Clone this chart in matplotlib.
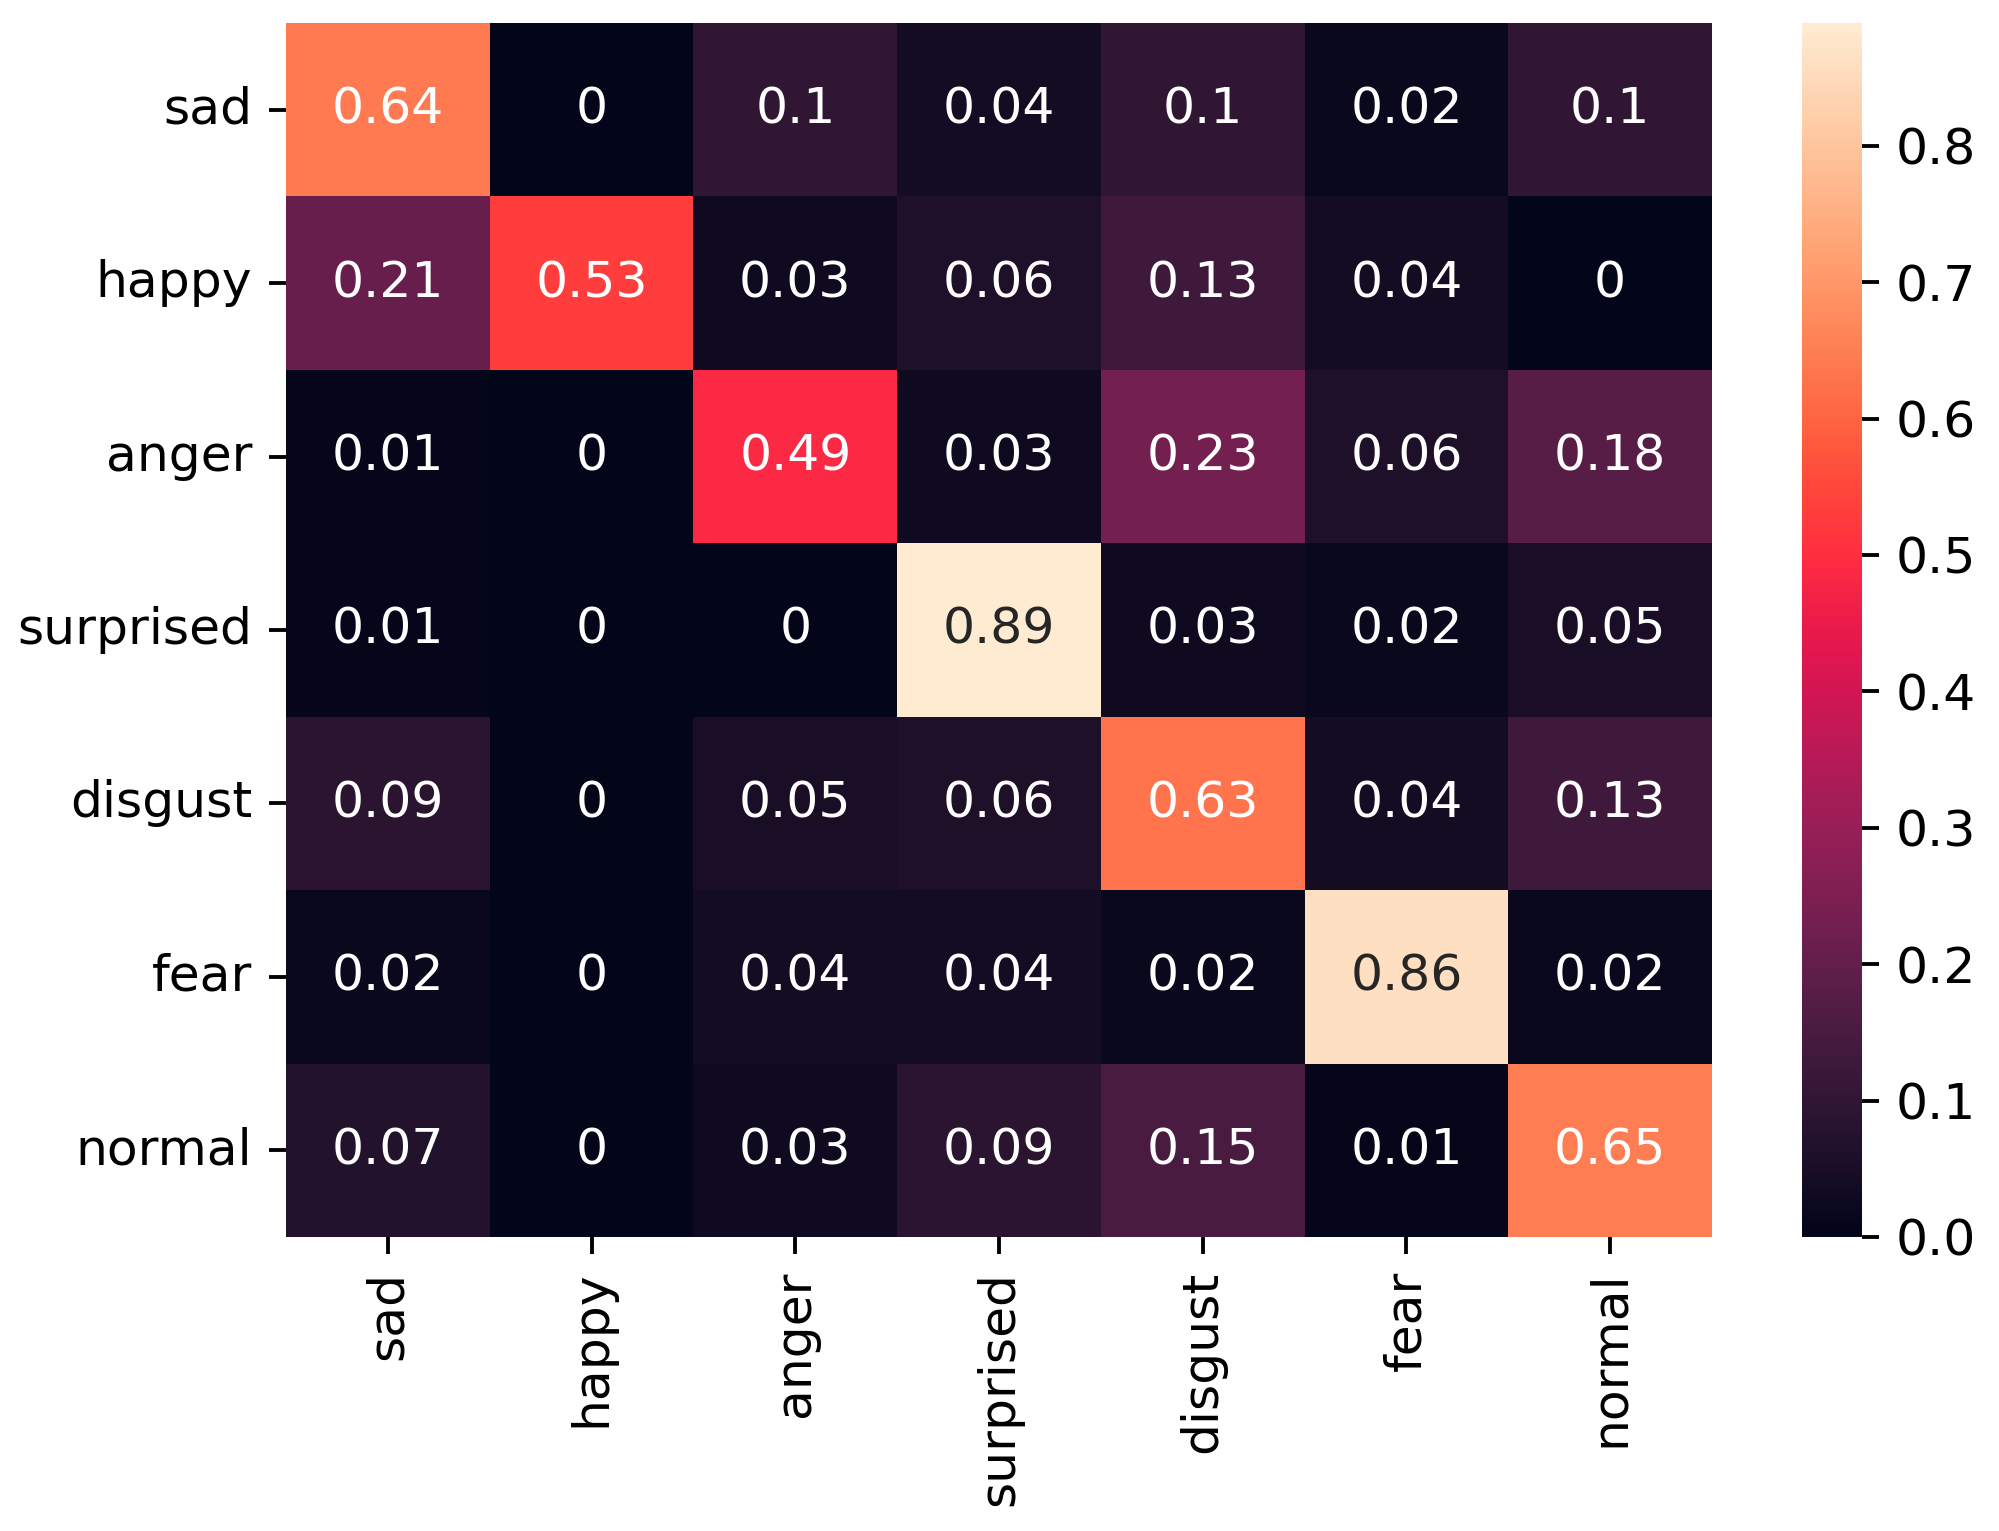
import numpy as np
import matplotlib
matplotlib.use("Agg")
import matplotlib.pyplot as plt
from matplotlib.colors import ListedColormap
import seaborn as sns

labels = ["sad", "happy", "anger", "surprised", "disgust", "fear", "normal"]

sad = [0.64, 0.0, 0.10, 0.04, 0.10, 0.02, 0.10]
happy = [0.21, 0.53, 0.03, 0.06, 0.13, 0.04, 0.0]
anger = [0.01, 0.0, 0.49, 0.03, 0.23, 0.06, 0.18]
surprised = [0.01, 0.0, 0.0, 0.89, 0.03, 0.02, 0.05]
disgust = [0.09, 0.0, 0.05, 0.06, 0.63, 0.04, 0.13]
fear = [0.02, 0.0, 0.04, 0.04, 0.02, 0.86, 0.02]
normal = [0.07, 0.0, 0.03, 0.09, 0.15, 0.01, 0.65]

cm = np.array([sad, happy, anger, surprised, disgust, fear, normal])

# rocket, a bit punchier like the reference image
base = np.array(sns.color_palette("rocket", 256))
base[:, 0] *= 1.15
base[:, 2] *= 0.95
cmap = ListedColormap(np.clip(base, 0, 1))

plt.rcParams["font.size"] = 10.5

dpi = 345
fig = plt.figure(figsize=(1999 / dpi, 1531 / dpi), dpi=dpi)
ax = fig.add_axes([286 / 1999, 1 - 1237 / 1531, (1712 - 286) / 1999, (1237 - 23) / 1531])
cax = fig.add_axes([1802 / 1999, 1 - 1237 / 1531, 60 / 1999, (1237 - 23) / 1531])

sns.heatmap(cm, annot=True, cmap=cmap, xticklabels=labels, yticklabels=labels,
            ax=ax, cbar_ax=cax)
ax.tick_params(axis="y", rotation=0)
ax.tick_params(axis="x", rotation=90)
cax.set_yticks(np.arange(0, 0.85, 0.1))

fig.savefig("out.png", dpi=dpi)
